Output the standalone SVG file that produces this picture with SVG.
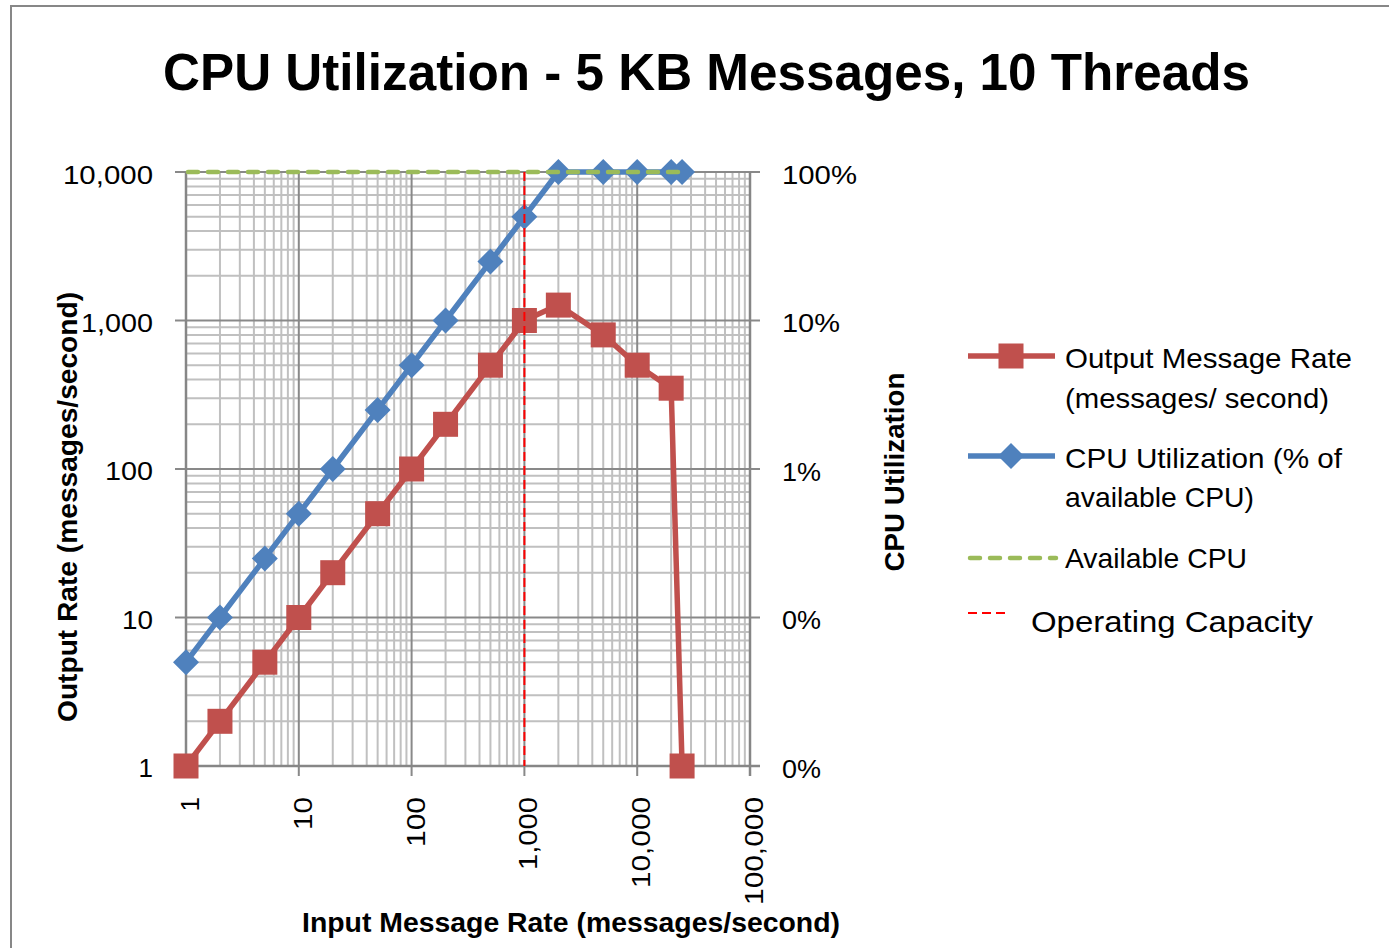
<svg xmlns="http://www.w3.org/2000/svg" width="1389" height="948" viewBox="0 0 1389 948">
<style>
.t{font-family:"Liberation Sans",Arial,sans-serif;fill:#000}
.b{font-weight:bold}
.minor{stroke:#c0c0c0;stroke-width:2;fill:none}
.major{stroke:#898989;stroke-width:2;fill:none}
.axis{stroke:#868686;stroke-width:2.5;fill:none}
.red{stroke:#c0504d;stroke-width:5.5;fill:none;stroke-linejoin:round}
.blue{stroke:#4f81bd;stroke-width:5.5;fill:none;stroke-linejoin:round}
.green{stroke:#9bbb59;stroke-width:4.5;fill:none;stroke-dasharray:10 10;stroke-linecap:round}
.cap{stroke:#ff0000;stroke-width:2;fill:none;stroke-dasharray:9 5}
.sq{fill:#c0504d}
.dm{fill:#4f81bd}
</style>
<defs>
<rect id="sqm" x="-12.5" y="-12.5" width="25" height="25" class="sq"/>
<path id="dmm" d="M0,-13 L13,0 L0,13 L-13,0 Z" class="dm"/>
</defs>
<rect x="0" y="0" width="1389" height="948" fill="#fff"/>
<path d="M11,948 V6 H1389" stroke="#878787" stroke-width="2" fill="none"/>
<g id="title"><text class="t b" x="163" y="90" font-size="52" textLength="1087" lengthAdjust="spacingAndGlyphs">CPU Utilization - 5 KB Messages, 10 Threads</text></g>
<g id="grid">
<path class="minor" d="M219.96,172V766M239.82,172V766M253.91,172V766M264.84,172V766M273.78,172V766M281.33,172V766M287.87,172V766M293.64,172V766
M332.76,172V766M352.62,172V766M366.71,172V766M377.64,172V766M386.58,172V766M394.13,172V766M400.67,172V766M406.44,172V766
M445.56,172V766M465.42,172V766M479.51,172V766M490.44,172V766M499.38,172V766M506.93,172V766M513.47,172V766M519.24,172V766
M558.36,172V766M578.22,172V766M592.31,172V766M603.24,172V766M612.18,172V766M619.73,172V766M626.27,172V766M632.04,172V766
M671.16,172V766M691.02,172V766M705.11,172V766M716.04,172V766M724.98,172V766M732.53,172V766M739.07,172V766M744.84,172V766
M186,721.3H750M186,695.15H750M186,676.59H750M186,662.2H750M186,650.45H750M186,640.5H750M186,631.89H750M186,624.3H750
M186,572.8H750M186,546.65H750M186,528.09H750M186,513.7H750M186,501.95H750M186,492H750M186,483.39H750M186,475.8H750
M186,424.3H750M186,398.15H750M186,379.59H750M186,365.2H750M186,353.45H750M186,343.5H750M186,334.89H750M186,327.3H750
M186,275.8H750M186,249.65H750M186,231.09H750M186,216.7H750M186,204.95H750M186,195H750M186,186.39H750M186,178.8H750"/>
<path class="major" d="M298.8,172V776M411.6,172V776M524.4,172V776M637.2,172V776M175,617.5H760M175,469H760M175,320.5H760M175,172H760"/>
<path class="axis" d="M186,172V776M750,172V776M175,766H760"/>
</g>
<g id="y-labels" class="t" font-size="26" text-anchor="end">
<text x="153" y="184" textLength="90" lengthAdjust="spacingAndGlyphs">10,000</text>
<text x="153" y="332" textLength="72" lengthAdjust="spacingAndGlyphs">1,000</text>
<text x="153" y="480" textLength="48" lengthAdjust="spacingAndGlyphs">100</text>
<text x="153" y="629" textLength="31" lengthAdjust="spacingAndGlyphs">10</text>
<text x="153" y="777">1</text>
</g>
<g id="y2-labels" class="t" font-size="26">
<text x="782" y="184" textLength="75" lengthAdjust="spacingAndGlyphs">100%</text>
<text x="782" y="332" textLength="58" lengthAdjust="spacingAndGlyphs">10%</text>
<text x="782" y="481" textLength="39" lengthAdjust="spacingAndGlyphs">1%</text>
<text x="782" y="629" textLength="39" lengthAdjust="spacingAndGlyphs">0%</text>
<text x="782" y="778" textLength="39" lengthAdjust="spacingAndGlyphs">0%</text>
</g>
<g id="x-labels" class="t" font-size="26" text-anchor="end">
<text transform="translate(199,797) rotate(-90)">1</text>
<text transform="translate(311.8,797) rotate(-90)" textLength="33" lengthAdjust="spacingAndGlyphs">10</text>
<text transform="translate(424.6,797) rotate(-90)" textLength="50" lengthAdjust="spacingAndGlyphs">100</text>
<text transform="translate(537.4,797) rotate(-90)" textLength="73" lengthAdjust="spacingAndGlyphs">1,000</text>
<text transform="translate(650.2,797) rotate(-90)" textLength="91" lengthAdjust="spacingAndGlyphs">10,000</text>
<text transform="translate(763,797) rotate(-90)" textLength="108" lengthAdjust="spacingAndGlyphs">100,000</text>
</g>
<g id="axis-titles" class="t b" text-anchor="middle">
<text transform="translate(77,507) rotate(-90)" font-size="27" textLength="430" lengthAdjust="spacingAndGlyphs">Output Rate (messages/second)</text>
<text transform="translate(904,472) rotate(-90)" font-size="27" textLength="199" lengthAdjust="spacingAndGlyphs">CPU Utilization</text>
<text x="571" y="932" font-size="28" textLength="538" lengthAdjust="spacingAndGlyphs">Input Message Rate (messages/second)</text>
</g>
<g id="connectors">
<polyline class="red" points="186,766 219.96,721.3 264.84,662.2 298.8,617.5 332.76,572.7 377.64,513.7 411.6,469 445.56,424.3 490.44,365.2 524.4,320.5 558.36,305.1 603.24,334.9 637.2,365.2 671.16,388.2 682.09,766"/>
<g id="red-markers">
<use href="#sqm" x="186" y="766"/><use href="#sqm" x="219.96" y="721.3"/><use href="#sqm" x="264.84" y="662.2"/><use href="#sqm" x="298.8" y="617.5"/><use href="#sqm" x="332.76" y="572.7"/><use href="#sqm" x="377.64" y="513.7"/><use href="#sqm" x="411.6" y="469"/><use href="#sqm" x="445.56" y="424.3"/><use href="#sqm" x="490.44" y="365.2"/><use href="#sqm" x="524.4" y="320.5"/><use href="#sqm" x="558.36" y="305.1"/><use href="#sqm" x="603.24" y="334.9"/><use href="#sqm" x="637.2" y="365.2"/><use href="#sqm" x="671.16" y="388.2"/><use href="#sqm" x="682.09" y="766"/>
</g>
<polyline class="blue" points="186,662.2 219.96,617.5 264.84,558.4 298.8,513.7 332.76,469 377.64,409.9 411.6,365.2 445.56,320.5 490.44,261.4 524.4,216.7 558.36,172 603.24,172 637.2,172 671.16,172 682.09,172"/>
<g id="blue-markers">
<use href="#dmm" x="186" y="662.2"/><use href="#dmm" x="219.96" y="617.5"/><use href="#dmm" x="264.84" y="558.4"/><use href="#dmm" x="298.8" y="513.7"/><use href="#dmm" x="332.76" y="469"/><use href="#dmm" x="377.64" y="409.9"/><use href="#dmm" x="411.6" y="365.2"/><use href="#dmm" x="445.56" y="320.5"/><use href="#dmm" x="490.44" y="261.4"/><use href="#dmm" x="524.4" y="216.7"/><use href="#dmm" x="558.36" y="172"/><use href="#dmm" x="603.24" y="172"/><use href="#dmm" x="637.2" y="172"/><use href="#dmm" x="671.16" y="172"/><use href="#dmm" x="682.09" y="172"/>
</g>
<path class="green" d="M188,172H682"/>
<path class="cap" d="M524.4,172V766"/>
</g>
<g id="legend">
<g id="leg-output">
<path class="red" d="M968,356H1055"/><use href="#sqm" x="1011" y="356"/>
<text class="t" x="1065" y="368" font-size="28" textLength="287" lengthAdjust="spacingAndGlyphs">Output Message Rate</text>
<text class="t" x="1065" y="408" font-size="28" textLength="264" lengthAdjust="spacingAndGlyphs">(messages/ second)</text>
</g>
<g id="leg-cpu">
<path class="blue" d="M968,456H1055"/><use href="#dmm" x="1011" y="456"/>
<text class="t" x="1065" y="468" font-size="28" textLength="277" lengthAdjust="spacingAndGlyphs">CPU Utilization (% of</text>
<text class="t" x="1065" y="507" font-size="28" textLength="189" lengthAdjust="spacingAndGlyphs">available CPU)</text>
</g>
<g id="leg-avail">
<path class="green" d="M970,558H1056"/>
<text class="t" x="1065" y="568" font-size="28" textLength="182" lengthAdjust="spacingAndGlyphs">Available CPU</text>
</g>
<g id="leg-op">
<path class="cap" d="M968,613H1008" stroke-dasharray="10 5"/>
<text class="t" x="1031" y="632" font-size="30" textLength="282" lengthAdjust="spacingAndGlyphs">Operating Capacity</text>
</g>
</g>
</svg>
